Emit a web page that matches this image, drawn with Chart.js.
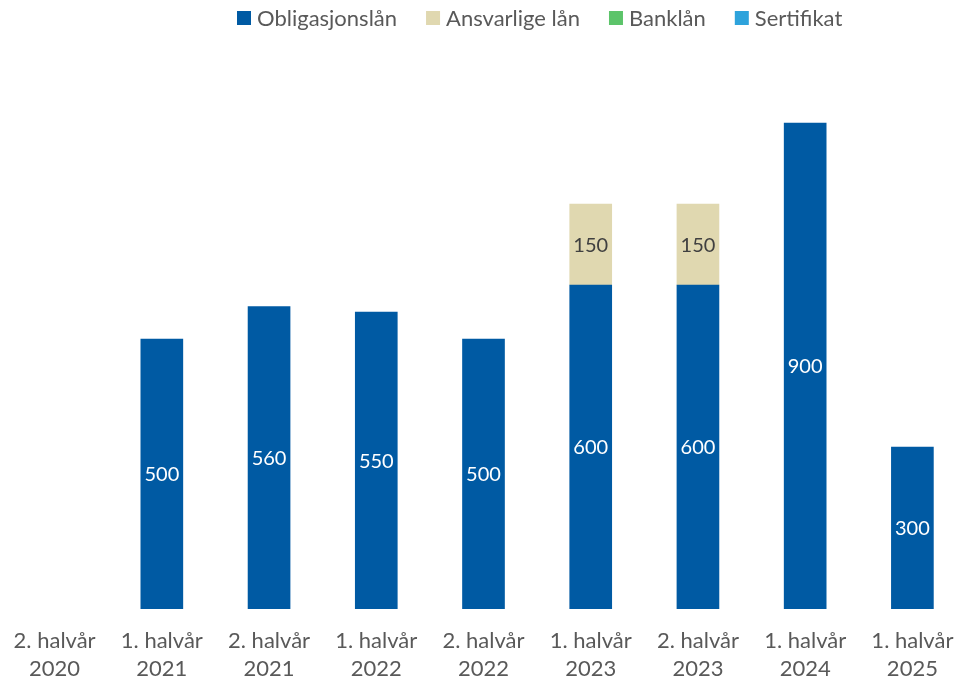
<!DOCTYPE html>
<html lang="no">
<head>
    <meta charset="UTF-8">
    <title>Opptak av lån</title>
    <script src="https://cdn.jsdelivr.net/npm/chart.js"></script>
    <style>
        html, body { margin: 0; padding: 0; background: #fff; overflow: hidden; }
    </style>
</head>
<body>
    <!-- a few px wider than the window: the plot area in the original runs slightly past the right edge -->
    <canvas id="loanChart" width="966" height="681"></canvas>

    <script>
        // Data
        const periods = [
            ['2. halvår', '2020'], ['1. halvår', '2021'], ['2. halvår', '2021'],
            ['1. halvår', '2022'], ['2. halvår', '2022'], ['1. halvår', '2023'],
            ['2. halvår', '2023'], ['1. halvår', '2024'], ['1. halvår', '2025']
        ];
        const obligasjonslan = [null, 500, 560, 550, 500, 600, 600, 900, 300];
        const ansvarligeLan  = [null, null, null, null, null, 150, 150, null, null];
        const banklan        = [null, null, null, null, null, null, null, null, null];
        const sertifikat     = [null, null, null, null, null, null, null, null, null];

        const FONT = 'Lato, sans-serif';
        const GREY = '#595959';

        // value labels centred in each segment
        const segmentLabels = {
            id: 'segmentLabels',
            afterDatasetsDraw(chart) {
                const ctx = chart.ctx;
                ctx.save();
                ctx.font = '20px ' + FONT;
                ctx.textAlign = 'center';
                ctx.textBaseline = 'middle';
                chart.data.datasets.forEach((ds, i) => {
                    const meta = chart.getDatasetMeta(i);
                    meta.data.forEach((bar, j) => {
                        const v = ds.data[j];
                        if (!v) return;
                        const p = bar.getCenterPoint();
                        ctx.fillStyle = ds.labelColor;
                        ctx.fillText(v, p.x, p.y + 1);
                    });
                });
                ctx.restore();
            }
        };

        // legend drawn by hand so it can sit where the original has it
        const topLegend = {
            id: 'topLegend',
            afterDraw(chart) {
                const ctx = chart.ctx;
                ctx.save();
                ctx.font = '22px ' + FONT;
                ctx.textBaseline = 'middle';
                let x = 237;
                const y = 18;
                chart.data.datasets.forEach(ds => {
                    ctx.fillStyle = ds.backgroundColor;
                    ctx.fillRect(x, y - 7, 14, 14);
                    ctx.fillStyle = GREY;
                    ctx.fillText(ds.label, x + 20, y + 1);
                    x += 20 + ctx.measureText(ds.label).width + 29;
                });
                ctx.restore();
            }
        };

        const ctx = document.getElementById('loanChart').getContext('2d');
        new Chart(ctx, {
            type: 'bar',
            data: {
                labels: periods,
                datasets: [
                    { label: 'Obligasjonslån', data: obligasjonslan, backgroundColor: '#005AA3', labelColor: '#ffffff' },
                    { label: 'Ansvarlige lån', data: ansvarligeLan, backgroundColor: '#E0D8B0', labelColor: '#404040' },
                    { label: 'Banklån', data: banklan, backgroundColor: '#5CC46A', labelColor: '#ffffff' },
                    { label: 'Sertifikat', data: sertifikat, backgroundColor: '#2EA3DC', labelColor: '#ffffff' }
                ]
            },
            options: {
                responsive: false,
                animation: false,
                barThickness: 42,
                layout: { padding: { top: 69, left: 1, right: 0, bottom: 0 } },
                plugins: {
                    legend: { display: false },
                    tooltip: { enabled: false }
                },
                scales: {
                    x: {
                        stacked: true,
                        grid: { display: false, drawTicks: false },
                        border: { display: false },
                        ticks: {
                            color: GREY,
                            padding: 18,
                            maxRotation: 0,
                            autoSkip: false,
                            font: { family: FONT, size: 22, lineHeight: 1.27 }
                        },
                        afterFit(scale) {
                            scale.height = 72;
                            scale.paddingLeft = 0;
                            scale.paddingRight = 0;
                        }
                    },
                    y: {
                        stacked: true,
                        display: false,
                        min: 0,
                        max: 1000
                    }
                }
            },
            plugins: [segmentLabels, topLegend]
        });
    </script>
</body>
</html>
